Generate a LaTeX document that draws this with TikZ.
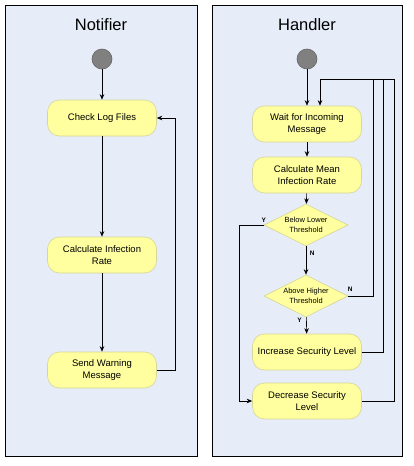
\documentclass[tikz,border=0pt]{standalone}
\usepackage{fontspec}
\setmainfont{Liberation Sans}
\usetikzlibrary{positioning, arrows.meta, shapes}

\definecolor{laneblue}{RGB}{230,236,248}
\definecolor{boxyellow}{RGB}{255,255,160}
\definecolor{boxline}{RGB}{214,214,150}
\definecolor{dotgray}{RGB}{128,128,128}

\begin{document}
\begin{tikzpicture}
            [x=1pt, y=-1pt,
             lanebox/.style={draw=black, fill=laneblue, line width=0.8pt},
             lanetitle/.style={font=\fontsize{16.5}{18}\selectfont},
             startdot/.style={circle, fill=dotgray, draw=dotgray!80!black, minimum size=20pt, inner sep=0pt},
             actbox/.style={rectangle, rounded corners=12pt, draw=boxline, fill=boxyellow,
                            minimum width=109pt, minimum height=36pt, align=center,
                            font=\fontsize{9.5}{11.5}\selectfont},
             decide/.style={diamond, aspect=2, draw=boxline, fill=boxyellow, inner sep=0pt,
                            minimum width=84pt, minimum height=42pt, align=center,
                            font=\fontsize{7.5}{9.5}\selectfont},
             guard/.style={font=\bfseries\fontsize{6.5}{7}\selectfont, inner sep=1.5pt},
             line width=0.6pt, >={Stealth[length=5.5pt, width=4.5pt]}]

            \fill[white] (0,0) rectangle (414,466);
            \useasboundingbox (0,0) rectangle (414,466);

            % swimlanes
            \draw[lanebox] (5,5) rectangle (197,456);
            \draw[lanebox] (212,5) rectangle (402,456);
            \node[lanetitle] (nottitle) at (101,25) {Notifier};
            \node[lanetitle] (handtitle) at (307,25) {Handler};

            % notifier
            \node[startdot] (nstart) at (102,59) {};
            \node[actbox] (check) at (102,118) {Check Log Files};
            \node[actbox] (calc) at (102,255) {Calculate Infection\\Rate};
            \node[actbox] (send) at (102,370) {Send Warning\\Message};
            \coordinate (nloop) at (175,0);

            \draw[->] (nstart) -- (check);
            \draw[->] (check) -- (calc);
            \draw[->] (calc) -- (send);
            \draw[->] (send.east) -| (nloop |- check.east) -- (check.east);

            % handler
            \node[startdot] (hstart) at (307,59) {};
            \node[actbox] (wait) at (307,124) {Wait for Incoming\\Message};
            \node[actbox] (mean) at (307,175) {Calculate Mean\\Infection Rate};
            \node[decide] (below) at (306,225) {Below Lower\\Threshold};
            \node[decide] (above) at (306,296) {Above Higher\\Threshold};
            \node[actbox] (incr) at (307,352) {Increase Security Level};
            \node[actbox] (decr) at (307,401) {Decrease Security\\Level};
            \coordinate (ybend) at (239,0);
            \coordinate (back) at (320,79);
            \coordinate (r1) at (373,79);
            \coordinate (r2) at (383,79);
            \coordinate (r3) at (394,79);

            \draw[->] (hstart) -- (wait);
            \draw[->] (wait) -- (mean);
            \draw[->] (mean) -- (below);
            \draw[->] (below) -- node[guard, pos=0.25, right, xshift=2pt] {N} (above);
            \draw[->] (above) -- node[guard, pos=0.2, left, xshift=-3pt] {Y} (incr);
            \draw[->] (below.west) node[guard, above, yshift=1pt] {Y} -- (ybend |- below.west) |- (decr.west);
            \draw (above.east) node[guard, above, xshift=2pt, yshift=3pt] {N} -| (r1);
            \draw (incr.east) -| (r2);
            \draw[->] (decr.east) -| (r3) -- (back) -- (back |- wait.north);
        \end{tikzpicture}
\end{document}
